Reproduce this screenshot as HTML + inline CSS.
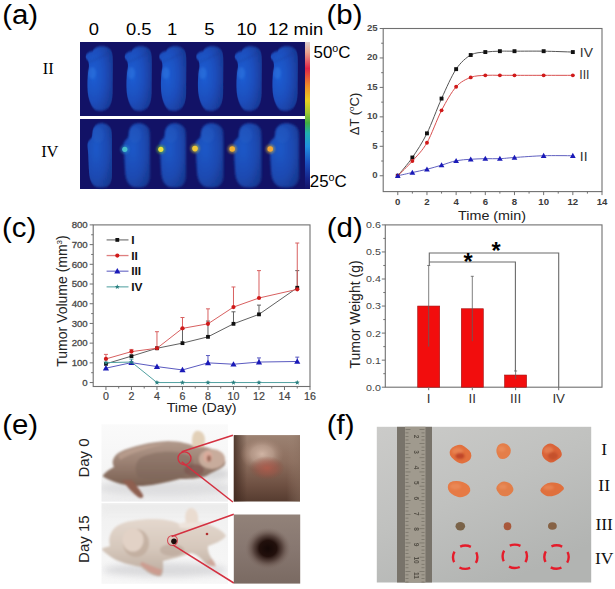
<!DOCTYPE html>
<html><head><meta charset="utf-8"><style>
html,body{margin:0;padding:0;background:#fff;width:615px;height:589px;overflow:hidden}
svg{display:block}
</style></head><body>
<svg width="615" height="589" viewBox="0 0 615 589">
<defs>
<filter id="blur05" x="-20%" y="-20%" width="140%" height="140%"><feGaussianBlur stdDeviation="0.6"/></filter>
<filter id="blur08" x="-20%" y="-20%" width="140%" height="140%"><feGaussianBlur stdDeviation="0.8"/></filter>
<filter id="blur07" x="-20%" y="-20%" width="140%" height="140%"><feGaussianBlur stdDeviation="1"/></filter>
<filter id="blur1" x="-50%" y="-50%" width="200%" height="200%"><feGaussianBlur stdDeviation="1.2"/></filter>
<filter id="blur2" x="-50%" y="-50%" width="200%" height="200%"><feGaussianBlur stdDeviation="3"/></filter>
<filter id="blur25" x="-50%" y="-50%" width="200%" height="200%"><feGaussianBlur stdDeviation="3.2"/></filter>
<filter id="blur3" x="-50%" y="-50%" width="200%" height="200%"><feGaussianBlur stdDeviation="5"/></filter>
<clipPath id="clipE1"><rect x="101.5" y="424.3" width="126.5" height="77.3"/></clipPath>
<clipPath id="clipE2"><rect x="101.5" y="503.2" width="126.5" height="80.6"/></clipPath>
<clipPath id="clipI1"><rect x="233.8" y="435.1" width="66.2" height="66.4"/></clipPath>
<clipPath id="clipI2"><rect x="233.8" y="514.5" width="66.4" height="69.1"/></clipPath>
<linearGradient id="cbar" x1="0" y1="0" x2="0" y2="1">
<stop offset="0" stop-color="#dcd0d0"/>
<stop offset="0.07" stop-color="#e8a490"/>
<stop offset="0.18" stop-color="#e02448"/>
<stop offset="0.3" stop-color="#f08c28"/>
<stop offset="0.4" stop-color="#e8d020"/>
<stop offset="0.48" stop-color="#a0c830"/>
<stop offset="0.55" stop-color="#40b040"/>
<stop offset="0.62" stop-color="#20b0b0"/>
<stop offset="0.71" stop-color="#2090e0"/>
<stop offset="0.82" stop-color="#1a50c0"/>
<stop offset="0.93" stop-color="#16248a"/>
<stop offset="1" stop-color="#141468"/>
</linearGradient>
<radialGradient id="mouseg" cx="0.3" cy="0.45" r="0.8">
<stop offset="0" stop-color="#1e5ed4"/>
<stop offset="0.5" stop-color="#1c4ebc"/>
<stop offset="1" stop-color="#183690"/>
</radialGradient>
<radialGradient id="mouseg2" cx="0.35" cy="0.4" r="0.8">
<stop offset="0" stop-color="#1c58c8"/>
<stop offset="0.55" stop-color="#1b4ab2"/>
<stop offset="1" stop-color="#18368c"/>
</radialGradient>
<linearGradient id="photoBg1" x1="0" y1="0" x2="0" y2="1">
<stop offset="0" stop-color="#fafafa"/>
<stop offset="0.6" stop-color="#f5f5f5"/>
<stop offset="1" stop-color="#ededee"/>
</linearGradient>
<linearGradient id="photoBg2" x1="0" y1="0" x2="0" y2="1">
<stop offset="0" stop-color="#f0f0f0"/>
<stop offset="0.5" stop-color="#f4f4f4"/>
<stop offset="1" stop-color="#f7f7f7"/>
</linearGradient>
<linearGradient id="m1body" x1="0" y1="0" x2="0" y2="1">
<stop offset="0" stop-color="#b29a8c"/>
<stop offset="0.45" stop-color="#9c8274"/>
<stop offset="1" stop-color="#7a6052"/>
</linearGradient>
<linearGradient id="m2body" x1="0" y1="0" x2="0" y2="1">
<stop offset="0" stop-color="#e4d8ce"/>
<stop offset="0.5" stop-color="#d6c8bc"/>
<stop offset="1" stop-color="#bcab9e"/>
</linearGradient>
<linearGradient id="i1base" x1="0" y1="0" x2="0" y2="1">
<stop offset="0" stop-color="#9c8272"/>
<stop offset="0.4" stop-color="#8c6e5e"/>
<stop offset="0.78" stop-color="#6c4e40"/>
<stop offset="1" stop-color="#563c30"/>
</linearGradient>
<linearGradient id="i1side" x1="0" y1="0" x2="1" y2="0">
<stop offset="0" stop-color="#3e281e" stop-opacity="0.8"/>
<stop offset="0.2" stop-color="#3e281e" stop-opacity="0"/>
<stop offset="0.8" stop-color="#a08878" stop-opacity="0"/>
<stop offset="1" stop-color="#8a7060" stop-opacity="0.5"/>
</linearGradient>
<radialGradient id="i1bump">
<stop offset="0" stop-color="#d0b4a4"/>
<stop offset="0.5" stop-color="#bea292" stop-opacity="0.75"/>
<stop offset="1" stop-color="#a08070" stop-opacity="0"/>
</radialGradient>
<radialGradient id="i1red">
<stop offset="0" stop-color="#b05a4a" stop-opacity="0.9"/>
<stop offset="0.55" stop-color="#a05446" stop-opacity="0.55"/>
<stop offset="1" stop-color="#8a4a3a" stop-opacity="0"/>
</radialGradient>
<linearGradient id="i2base" x1="0" y1="0" x2="0" y2="1">
<stop offset="0" stop-color="#928279"/>
<stop offset="0.5" stop-color="#877770"/>
<stop offset="1" stop-color="#7a6a62"/>
</linearGradient>
<radialGradient id="i2spot">
<stop offset="0" stop-color="#140806"/>
<stop offset="0.38" stop-color="#22100c"/>
<stop offset="0.62" stop-color="#4e3a34" stop-opacity="0.85"/>
<stop offset="1" stop-color="#806c64" stop-opacity="0"/>
</radialGradient>
<linearGradient id="photoF" x1="0" y1="0" x2="0.6" y2="1">
<stop offset="0" stop-color="#cbcbc9"/>
<stop offset="0.5" stop-color="#c0c1bf"/>
<stop offset="1" stop-color="#b2b4b2"/>
</linearGradient>
</defs>
<rect width="615" height="589" fill="#fff"/>
<text transform="translate(2.2,24.2) scale(1.07,1)" font-family="'Liberation Sans', sans-serif" font-size="27.5" font-weight="normal" fill="#000" text-anchor="start" >(a)</text>
<text transform="translate(93.8,35) scale(1.07,1)" font-family="'Liberation Sans', sans-serif" font-size="17.2" font-weight="normal" fill="#000" text-anchor="middle" >0</text>
<text transform="translate(138.7,35) scale(1.07,1)" font-family="'Liberation Sans', sans-serif" font-size="17.2" font-weight="normal" fill="#000" text-anchor="middle" >0.5</text>
<text transform="translate(172,35) scale(1.07,1)" font-family="'Liberation Sans', sans-serif" font-size="17.2" font-weight="normal" fill="#000" text-anchor="middle" >1</text>
<text transform="translate(209.3,35) scale(1.07,1)" font-family="'Liberation Sans', sans-serif" font-size="17.2" font-weight="normal" fill="#000" text-anchor="middle" >5</text>
<text transform="translate(246.6,35) scale(1.07,1)" font-family="'Liberation Sans', sans-serif" font-size="17.2" font-weight="normal" fill="#000" text-anchor="middle" >10</text>
<text transform="translate(268,35) scale(1.07,1)" font-family="'Liberation Sans', sans-serif" font-size="17.2" font-weight="normal" fill="#000" text-anchor="start" >12 min</text>
<rect x="80" y="42" width="225" height="74" fill="#121266"/>
<rect x="80" y="119" width="225" height="70" fill="#121266"/>
<g transform="translate(85.5,42) scale(0.95,1)"><path d="M0.2,14 C0.8,11.5 3,10 7.5,9 C9,6 13,4.3 17,4.3 C22,4.3 26,6 27.8,10 C28.8,13 28.8,17 28.8,22 L28.6,50 C28.5,57 27.5,62 24.5,65.5 C22,68 19,68.8 15,68.8 C11,68.8 8,67 6,63 C3.5,58 2,52 2,44 C2,38 2.2,32 3.5,26 C3.8,23 3.6,20.5 2.5,18.5 C1.2,17.5 0,16 0.2,14 Z" fill="url(#mouseg)" filter="url(#blur08)"/><ellipse cx="7" cy="31" rx="4" ry="6" fill="#3a84e8" opacity="0.35" filter="url(#blur1)"/><path d="M4,20 C10,18 18,14 27,10" stroke="#1a3890" stroke-width="1.5" fill="none" opacity="0.25" filter="url(#blur08)"/></g>
<g transform="translate(124.5,42) scale(0.95,1)"><path d="M0.2,14 C0.8,11.5 3,10 7.5,9 C9,6 13,4.3 17,4.3 C22,4.3 26,6 27.8,10 C28.8,13 28.8,17 28.8,22 L28.6,50 C28.5,57 27.5,62 24.5,65.5 C22,68 19,68.8 15,68.8 C11,68.8 8,67 6,63 C3.5,58 2,52 2,44 C2,38 2.2,32 3.5,26 C3.8,23 3.6,20.5 2.5,18.5 C1.2,17.5 0,16 0.2,14 Z" fill="url(#mouseg)" filter="url(#blur08)"/><ellipse cx="7" cy="31" rx="4" ry="6" fill="#3a84e8" opacity="0.35" filter="url(#blur1)"/><path d="M4,20 C10,18 18,14 27,10" stroke="#1a3890" stroke-width="1.5" fill="none" opacity="0.25" filter="url(#blur08)"/></g>
<g transform="translate(159,42) scale(0.95,1)"><path d="M0.2,14 C0.8,11.5 3,10 7.5,9 C9,6 13,4.3 17,4.3 C22,4.3 26,6 27.8,10 C28.8,13 28.8,17 28.8,22 L28.6,50 C28.5,57 27.5,62 24.5,65.5 C22,68 19,68.8 15,68.8 C11,68.8 8,67 6,63 C3.5,58 2,52 2,44 C2,38 2.2,32 3.5,26 C3.8,23 3.6,20.5 2.5,18.5 C1.2,17.5 0,16 0.2,14 Z" fill="url(#mouseg)" filter="url(#blur08)"/><ellipse cx="7" cy="31" rx="4" ry="6" fill="#3a84e8" opacity="0.35" filter="url(#blur1)"/><path d="M4,20 C10,18 18,14 27,10" stroke="#1a3890" stroke-width="1.5" fill="none" opacity="0.25" filter="url(#blur08)"/></g>
<g transform="translate(196,42) scale(0.95,1)"><path d="M0.2,14 C0.8,11.5 3,10 7.5,9 C9,6 13,4.3 17,4.3 C22,4.3 26,6 27.8,10 C28.8,13 28.8,17 28.8,22 L28.6,50 C28.5,57 27.5,62 24.5,65.5 C22,68 19,68.8 15,68.8 C11,68.8 8,67 6,63 C3.5,58 2,52 2,44 C2,38 2.2,32 3.5,26 C3.8,23 3.6,20.5 2.5,18.5 C1.2,17.5 0,16 0.2,14 Z" fill="url(#mouseg)" filter="url(#blur08)"/><ellipse cx="7" cy="31" rx="4" ry="6" fill="#3a84e8" opacity="0.35" filter="url(#blur1)"/><path d="M4,20 C10,18 18,14 27,10" stroke="#1a3890" stroke-width="1.5" fill="none" opacity="0.25" filter="url(#blur08)"/></g>
<g transform="translate(234.5,42) scale(0.95,1)"><path d="M0.2,14 C0.8,11.5 3,10 7.5,9 C9,6 13,4.3 17,4.3 C22,4.3 26,6 27.8,10 C28.8,13 28.8,17 28.8,22 L28.6,50 C28.5,57 27.5,62 24.5,65.5 C22,68 19,68.8 15,68.8 C11,68.8 8,67 6,63 C3.5,58 2,52 2,44 C2,38 2.2,32 3.5,26 C3.8,23 3.6,20.5 2.5,18.5 C1.2,17.5 0,16 0.2,14 Z" fill="url(#mouseg)" filter="url(#blur08)"/><ellipse cx="7" cy="31" rx="4" ry="6" fill="#3a84e8" opacity="0.35" filter="url(#blur1)"/><path d="M4,20 C10,18 18,14 27,10" stroke="#1a3890" stroke-width="1.5" fill="none" opacity="0.25" filter="url(#blur08)"/></g>
<g transform="translate(270.5,42) scale(0.95,1)"><path d="M0.2,14 C0.8,11.5 3,10 7.5,9 C9,6 13,4.3 17,4.3 C22,4.3 26,6 27.8,10 C28.8,13 28.8,17 28.8,22 L28.6,50 C28.5,57 27.5,62 24.5,65.5 C22,68 19,68.8 15,68.8 C11,68.8 8,67 6,63 C3.5,58 2,52 2,44 C2,38 2.2,32 3.5,26 C3.8,23 3.6,20.5 2.5,18.5 C1.2,17.5 0,16 0.2,14 Z" fill="url(#mouseg)" filter="url(#blur08)"/><ellipse cx="7" cy="31" rx="4" ry="6" fill="#3a84e8" opacity="0.35" filter="url(#blur1)"/><path d="M4,20 C10,18 18,14 27,10" stroke="#1a3890" stroke-width="1.5" fill="none" opacity="0.25" filter="url(#blur08)"/></g>
<g transform="translate(87,119) scale(0.9398496240601504,1)"><path d="M6,12 C7,7 10.5,4.2 15,4.2 C20.5,4.2 24.5,6.5 26,11 C26.8,15 26.6,24 26.6,34 L26.6,56 C26.6,62 25,66 21,67.8 C18,68.8 12,68.8 9,67.5 C5,65.5 3,61 2.3,55 C1.8,48 1.5,42 1.3,36 C1.2,31 0.2,28 0.5,25 C0.8,22 3.5,20.5 5,18.5 C5.8,16.5 5.7,14 6,12 Z" fill="url(#mouseg2)" filter="url(#blur08)"/><ellipse cx="12" cy="16" rx="6" ry="8" fill="#2a64c8" opacity="0.3" filter="url(#blur1)"/></g>
<g transform="translate(123,119) scale(1.0150375939849623,1)"><path d="M6,12 C7,7 10.5,4.2 15,4.2 C20.5,4.2 24.5,6.5 26,11 C26.8,15 26.6,24 26.6,34 L26.6,56 C26.6,62 25,66 21,67.8 C18,68.8 12,68.8 9,67.5 C5,65.5 3,61 2.3,55 C1.8,48 1.5,42 1.3,36 C1.2,31 0.2,28 0.5,25 C0.8,22 3.5,20.5 5,18.5 C5.8,16.5 5.7,14 6,12 Z" fill="url(#mouseg2)" filter="url(#blur08)"/><ellipse cx="12" cy="16" rx="6" ry="8" fill="#2a64c8" opacity="0.3" filter="url(#blur1)"/></g>
<g transform="translate(159,119) scale(1.0150375939849623,1)"><path d="M6,12 C7,7 10.5,4.2 15,4.2 C20.5,4.2 24.5,6.5 26,11 C26.8,15 26.6,24 26.6,34 L26.6,56 C26.6,62 25,66 21,67.8 C18,68.8 12,68.8 9,67.5 C5,65.5 3,61 2.3,55 C1.8,48 1.5,42 1.3,36 C1.2,31 0.2,28 0.5,25 C0.8,22 3.5,20.5 5,18.5 C5.8,16.5 5.7,14 6,12 Z" fill="url(#mouseg2)" filter="url(#blur08)"/><ellipse cx="12" cy="16" rx="6" ry="8" fill="#2a64c8" opacity="0.3" filter="url(#blur1)"/></g>
<g transform="translate(194.7,119) scale(1.0827067669172936,1)"><path d="M6,12 C7,7 10.5,4.2 15,4.2 C20.5,4.2 24.5,6.5 26,11 C26.8,15 26.6,24 26.6,34 L26.6,56 C26.6,62 25,66 21,67.8 C18,68.8 12,68.8 9,67.5 C5,65.5 3,61 2.3,55 C1.8,48 1.5,42 1.3,36 C1.2,31 0.2,28 0.5,25 C0.8,22 3.5,20.5 5,18.5 C5.8,16.5 5.7,14 6,12 Z" fill="url(#mouseg2)" filter="url(#blur08)"/><ellipse cx="12" cy="16" rx="6" ry="8" fill="#2a64c8" opacity="0.3" filter="url(#blur1)"/></g>
<g transform="translate(232.8,119) scale(1.0789473684210522,1)"><path d="M6,12 C7,7 10.5,4.2 15,4.2 C20.5,4.2 24.5,6.5 26,11 C26.8,15 26.6,24 26.6,34 L26.6,56 C26.6,62 25,66 21,67.8 C18,68.8 12,68.8 9,67.5 C5,65.5 3,61 2.3,55 C1.8,48 1.5,42 1.3,36 C1.2,31 0.2,28 0.5,25 C0.8,22 3.5,20.5 5,18.5 C5.8,16.5 5.7,14 6,12 Z" fill="url(#mouseg2)" filter="url(#blur08)"/><ellipse cx="12" cy="16" rx="6" ry="8" fill="#2a64c8" opacity="0.3" filter="url(#blur1)"/></g>
<g transform="translate(268.7,119) scale(1.1390977443609027,1)"><path d="M6,12 C7,7 10.5,4.2 15,4.2 C20.5,4.2 24.5,6.5 26,11 C26.8,15 26.6,24 26.6,34 L26.6,56 C26.6,62 25,66 21,67.8 C18,68.8 12,68.8 9,67.5 C5,65.5 3,61 2.3,55 C1.8,48 1.5,42 1.3,36 C1.2,31 0.2,28 0.5,25 C0.8,22 3.5,20.5 5,18.5 C5.8,16.5 5.7,14 6,12 Z" fill="url(#mouseg2)" filter="url(#blur08)"/><ellipse cx="12" cy="16" rx="6" ry="8" fill="#2a64c8" opacity="0.3" filter="url(#blur1)"/></g>
<circle cx="124.8" cy="149.3" r="4.4" fill="#2a90c8" opacity="0.55" filter="url(#blur1)"/>
<circle cx="124.8" cy="149.3" r="2.6" fill="#48c0cc" filter="url(#blur05)"/>
<circle cx="160.8" cy="149.3" r="4.4" fill="#70c040" opacity="0.55" filter="url(#blur1)"/>
<circle cx="160.8" cy="149.3" r="2.6" fill="#e8e040" filter="url(#blur05)"/>
<circle cx="195" cy="148.6" r="4.6" fill="#c0c040" opacity="0.55" filter="url(#blur1)"/>
<circle cx="195" cy="148.6" r="2.8" fill="#f0c838" filter="url(#blur05)"/>
<circle cx="232.2" cy="149" r="4.6" fill="#d0b040" opacity="0.55" filter="url(#blur1)"/>
<circle cx="232.2" cy="149" r="2.8" fill="#f4b030" filter="url(#blur05)"/>
<circle cx="270.2" cy="149" r="4.6" fill="#d0b040" opacity="0.55" filter="url(#blur1)"/>
<circle cx="270.2" cy="149" r="2.8" fill="#f4a838" filter="url(#blur05)"/>
<rect x="305" y="42" width="5" height="147" fill="url(#cbar)"/>
<text transform="translate(313.5,57.5) scale(1.07,1)" font-family="'Liberation Sans', sans-serif" font-size="15.8" font-weight="normal" fill="#000" text-anchor="start" >50<tspan font-size="10" dy="-5.5">o</tspan><tspan dy="5.5">C</tspan></text>
<text transform="translate(309.8,186.5) scale(1.07,1)" font-family="'Liberation Sans', sans-serif" font-size="15.8" font-weight="normal" fill="#000" text-anchor="start" >25<tspan font-size="10" dy="-5.5">o</tspan><tspan dy="5.5">C</tspan></text>
<text transform="translate(48.2,73.8) scale(1.0,1)" font-family="'Liberation Serif', serif" font-size="16.4" font-weight="normal" fill="#000" text-anchor="middle" >II</text>
<text transform="translate(49.8,157) scale(1.0,1)" font-family="'Liberation Serif', serif" font-size="16.4" font-weight="normal" fill="#000" text-anchor="middle" >IV</text>
<text transform="translate(326.5,24.2) scale(1.07,1)" font-family="'Liberation Sans', sans-serif" font-size="27.5" font-weight="normal" fill="#000" text-anchor="start" >(b)</text>
<rect x="383.2" y="28.5" width="218.8" height="163.1" fill="none" stroke="#707070" stroke-width="1.1"/>
<line x1="379.7" y1="175.76" x2="383.2" y2="175.76" stroke="#707070" stroke-width="1"/>
<text transform="translate(377.7,178.2553268327916) scale(1.07,1)" font-family="'Liberation Sans', sans-serif" font-size="9" font-weight="bold" fill="#4a4a4a" text-anchor="end" >0</text>
<line x1="379.7" y1="146.30" x2="383.2" y2="146.30" stroke="#707070" stroke-width="1"/>
<text transform="translate(377.7,148.8042614662333) scale(1.07,1)" font-family="'Liberation Sans', sans-serif" font-size="9" font-weight="bold" fill="#4a4a4a" text-anchor="end" >5</text>
<line x1="379.7" y1="116.85" x2="383.2" y2="116.85" stroke="#707070" stroke-width="1"/>
<text transform="translate(377.7,119.35319609967497) scale(1.07,1)" font-family="'Liberation Sans', sans-serif" font-size="9" font-weight="bold" fill="#4a4a4a" text-anchor="end" >10</text>
<line x1="379.7" y1="87.40" x2="383.2" y2="87.40" stroke="#707070" stroke-width="1"/>
<text transform="translate(377.7,89.90213073311664) scale(1.07,1)" font-family="'Liberation Sans', sans-serif" font-size="9" font-weight="bold" fill="#4a4a4a" text-anchor="end" >15</text>
<line x1="379.7" y1="57.95" x2="383.2" y2="57.95" stroke="#707070" stroke-width="1"/>
<text transform="translate(377.7,60.45106536655834) scale(1.07,1)" font-family="'Liberation Sans', sans-serif" font-size="9" font-weight="bold" fill="#4a4a4a" text-anchor="end" >20</text>
<line x1="379.7" y1="28.50" x2="383.2" y2="28.50" stroke="#707070" stroke-width="1"/>
<text transform="translate(377.7,31.0) scale(1.07,1)" font-family="'Liberation Sans', sans-serif" font-size="9" font-weight="bold" fill="#4a4a4a" text-anchor="end" >25</text>
<line x1="381.2" y1="161.03" x2="383.2" y2="161.03" stroke="#707070" stroke-width="1"/>
<line x1="381.2" y1="131.58" x2="383.2" y2="131.58" stroke="#707070" stroke-width="1"/>
<line x1="381.2" y1="102.13" x2="383.2" y2="102.13" stroke="#707070" stroke-width="1"/>
<line x1="381.2" y1="72.68" x2="383.2" y2="72.68" stroke="#707070" stroke-width="1"/>
<line x1="381.2" y1="43.23" x2="383.2" y2="43.23" stroke="#707070" stroke-width="1"/>
<line x1="397.79" y1="191.6" x2="397.79" y2="195.1" stroke="#707070" stroke-width="1"/>
<text transform="translate(397.78666666666663,204.9) scale(1.07,1)" font-family="'Liberation Sans', sans-serif" font-size="9" font-weight="bold" fill="#3a3a3a" text-anchor="middle" >0</text>
<line x1="426.96" y1="191.6" x2="426.96" y2="195.1" stroke="#707070" stroke-width="1"/>
<text transform="translate(426.96,204.9) scale(1.07,1)" font-family="'Liberation Sans', sans-serif" font-size="9" font-weight="bold" fill="#3a3a3a" text-anchor="middle" >2</text>
<line x1="456.13" y1="191.6" x2="456.13" y2="195.1" stroke="#707070" stroke-width="1"/>
<text transform="translate(456.1333333333333,204.9) scale(1.07,1)" font-family="'Liberation Sans', sans-serif" font-size="9" font-weight="bold" fill="#3a3a3a" text-anchor="middle" >4</text>
<line x1="485.31" y1="191.6" x2="485.31" y2="195.1" stroke="#707070" stroke-width="1"/>
<text transform="translate(485.3066666666667,204.9) scale(1.07,1)" font-family="'Liberation Sans', sans-serif" font-size="9" font-weight="bold" fill="#3a3a3a" text-anchor="middle" >6</text>
<line x1="514.48" y1="191.6" x2="514.48" y2="195.1" stroke="#707070" stroke-width="1"/>
<text transform="translate(514.48,204.9) scale(1.07,1)" font-family="'Liberation Sans', sans-serif" font-size="9" font-weight="bold" fill="#3a3a3a" text-anchor="middle" >8</text>
<line x1="543.65" y1="191.6" x2="543.65" y2="195.1" stroke="#707070" stroke-width="1"/>
<text transform="translate(543.6533333333333,204.9) scale(1.07,1)" font-family="'Liberation Sans', sans-serif" font-size="9" font-weight="bold" fill="#3a3a3a" text-anchor="middle" >10</text>
<line x1="572.83" y1="191.6" x2="572.83" y2="195.1" stroke="#707070" stroke-width="1"/>
<text transform="translate(572.8266666666667,204.9) scale(1.07,1)" font-family="'Liberation Sans', sans-serif" font-size="9" font-weight="bold" fill="#3a3a3a" text-anchor="middle" >12</text>
<line x1="602.00" y1="191.6" x2="602.00" y2="195.1" stroke="#707070" stroke-width="1"/>
<text transform="translate(602.0,204.9) scale(1.07,1)" font-family="'Liberation Sans', sans-serif" font-size="9" font-weight="bold" fill="#3a3a3a" text-anchor="middle" >14</text>
<line x1="412.37" y1="191.6" x2="412.37" y2="193.6" stroke="#707070" stroke-width="1"/>
<line x1="441.55" y1="191.6" x2="441.55" y2="193.6" stroke="#707070" stroke-width="1"/>
<line x1="470.72" y1="191.6" x2="470.72" y2="193.6" stroke="#707070" stroke-width="1"/>
<line x1="499.89" y1="191.6" x2="499.89" y2="193.6" stroke="#707070" stroke-width="1"/>
<line x1="529.07" y1="191.6" x2="529.07" y2="193.6" stroke="#707070" stroke-width="1"/>
<line x1="558.24" y1="191.6" x2="558.24" y2="193.6" stroke="#707070" stroke-width="1"/>
<line x1="587.41" y1="191.6" x2="587.41" y2="193.6" stroke="#707070" stroke-width="1"/>
<text transform="translate(492,220.3) scale(1.07,1)" font-family="'Liberation Sans', sans-serif" font-size="13.4" font-weight="normal" fill="#222" text-anchor="middle" >Time (min)</text>
<text transform="translate(358.8,114) rotate(-90) scale(1,1.0)" font-family="'Liberation Sans', sans-serif" font-size="13" font-weight="normal" fill="#222" text-anchor="middle" >ΔT (<tspan font-size="8" dy="-5">o</tspan><tspan dy="5">C)</tspan></text>
<path d="M397.79,175.76 C400.12,172.83 407.71,164.28 412.37,157.50 C417.04,150.71 422.29,142.77 426.96,133.35 C431.63,123.92 436.88,108.87 441.55,98.59 C446.21,88.32 451.47,76.12 456.13,69.14 C460.80,62.17 466.05,57.74 470.72,55.01 C475.39,52.27 480.64,52.67 485.31,52.06 C489.97,51.45 495.23,51.32 499.89,51.18 C504.56,51.04 507.48,51.18 514.48,51.18 C521.48,51.18 534.32,51.04 543.65,51.18 C552.99,51.32 568.16,51.92 572.83,52.06" fill="none" stroke="#555" stroke-width="1"/>
<rect x="395.84" y="173.81" width="3.9" height="3.9" fill="#111"/>
<rect x="410.42" y="155.55" width="3.9" height="3.9" fill="#111"/>
<rect x="425.01" y="131.40" width="3.9" height="3.9" fill="#111"/>
<rect x="439.60" y="96.64" width="3.9" height="3.9" fill="#111"/>
<rect x="454.18" y="67.19" width="3.9" height="3.9" fill="#111"/>
<rect x="468.77" y="53.06" width="3.9" height="3.9" fill="#111"/>
<rect x="483.36" y="50.11" width="3.9" height="3.9" fill="#111"/>
<rect x="497.94" y="49.23" width="3.9" height="3.9" fill="#111"/>
<rect x="512.53" y="49.23" width="3.9" height="3.9" fill="#111"/>
<rect x="541.70" y="49.23" width="3.9" height="3.9" fill="#111"/>
<rect x="570.88" y="50.11" width="3.9" height="3.9" fill="#111"/>
<path d="M397.79,175.76 C400.12,173.40 407.71,166.31 412.37,161.03 C417.04,155.75 422.29,150.88 426.96,142.77 C431.63,134.67 436.88,119.33 441.55,110.37 C446.21,101.42 451.47,92.09 456.13,86.81 C460.80,81.54 466.05,79.23 470.72,77.39 C475.39,75.55 480.64,75.66 485.31,75.33 C489.97,75.00 495.23,75.33 499.89,75.33 C504.56,75.33 507.48,75.33 514.48,75.33 C521.48,75.33 534.32,75.33 543.65,75.33 C552.99,75.33 568.16,75.33 572.83,75.33" fill="none" stroke="#d85050" stroke-width="1"/>
<circle cx="397.79" cy="175.76" r="1.95" fill="#d01a1a"/>
<circle cx="412.37" cy="161.03" r="1.95" fill="#d01a1a"/>
<circle cx="426.96" cy="142.77" r="1.95" fill="#d01a1a"/>
<circle cx="441.55" cy="110.37" r="1.95" fill="#d01a1a"/>
<circle cx="456.13" cy="86.81" r="1.95" fill="#d01a1a"/>
<circle cx="470.72" cy="77.39" r="1.95" fill="#d01a1a"/>
<circle cx="485.31" cy="75.33" r="1.95" fill="#d01a1a"/>
<circle cx="499.89" cy="75.33" r="1.95" fill="#d01a1a"/>
<circle cx="514.48" cy="75.33" r="1.95" fill="#d01a1a"/>
<circle cx="543.65" cy="75.33" r="1.95" fill="#d01a1a"/>
<circle cx="572.83" cy="75.33" r="1.95" fill="#d01a1a"/>
<path d="M397.79,175.76 C400.12,175.24 407.71,173.55 412.37,172.52 C417.04,171.48 422.29,170.45 426.96,169.28 C431.63,168.10 436.88,166.52 441.55,165.15 C446.21,163.79 451.47,161.68 456.13,160.74 C460.80,159.79 466.05,159.59 470.72,159.26 C475.39,158.93 480.64,158.77 485.31,158.67 C489.97,158.58 495.23,158.86 499.89,158.67 C504.56,158.49 507.48,157.97 514.48,157.50 C521.48,157.02 534.32,156.01 543.65,155.73 C552.99,155.45 568.16,155.73 572.83,155.73" fill="none" stroke="#6060c0" stroke-width="1"/>
<path d="M397.79,172.90 L400.65,177.94 L394.93,177.94 Z" fill="#1a1ab8"/>
<path d="M412.37,169.66 L415.23,174.70 L409.51,174.70 Z" fill="#1a1ab8"/>
<path d="M426.96,166.42 L429.82,171.46 L424.10,171.46 Z" fill="#1a1ab8"/>
<path d="M441.55,162.29 L444.41,167.34 L438.69,167.34 Z" fill="#1a1ab8"/>
<path d="M456.13,157.88 L458.99,162.92 L453.27,162.92 Z" fill="#1a1ab8"/>
<path d="M470.72,156.40 L473.58,161.45 L467.86,161.45 Z" fill="#1a1ab8"/>
<path d="M485.31,155.81 L488.17,160.86 L482.45,160.86 Z" fill="#1a1ab8"/>
<path d="M499.89,155.81 L502.75,160.86 L497.03,160.86 Z" fill="#1a1ab8"/>
<path d="M514.48,154.64 L517.34,159.68 L511.62,159.68 Z" fill="#1a1ab8"/>
<path d="M543.65,152.87 L546.51,157.91 L540.79,157.91 Z" fill="#1a1ab8"/>
<path d="M572.83,152.87 L575.69,157.91 L569.97,157.91 Z" fill="#1a1ab8"/>
<text transform="translate(579.8,57.3) scale(1.07,1)" font-family="'Liberation Sans', sans-serif" font-size="13" font-weight="normal" fill="#333" text-anchor="start" >IV</text>
<text transform="translate(579.2,79) scale(0.95,1)" font-family="'Liberation Sans', sans-serif" font-size="13" font-weight="normal" fill="#333" text-anchor="start" >III</text>
<text transform="translate(579.8,161) scale(1.07,1)" font-family="'Liberation Sans', sans-serif" font-size="13" font-weight="normal" fill="#333" text-anchor="start" >II</text>
<text transform="translate(2,236.5) scale(1.07,1)" font-family="'Liberation Sans', sans-serif" font-size="27.5" font-weight="normal" fill="#000" text-anchor="start" >(c)</text>
<rect x="93.2" y="224.9" width="216.8" height="161.6" fill="none" stroke="#707070" stroke-width="1.1"/>
<line x1="89.7" y1="382.56" x2="93.2" y2="382.56" stroke="#707070" stroke-width="1"/>
<text transform="translate(87.7,385.85853658536587) scale(1.07,1)" font-family="'Liberation Sans', sans-serif" font-size="9" font-weight="normal" fill="#4a4a4a" text-anchor="end" stroke="#4a4a4a" stroke-width="0.3">0</text>
<line x1="89.7" y1="362.85" x2="93.2" y2="362.85" stroke="#707070" stroke-width="1"/>
<text transform="translate(87.7,366.15121951219515) scale(1.07,1)" font-family="'Liberation Sans', sans-serif" font-size="9" font-weight="normal" fill="#4a4a4a" text-anchor="end" stroke="#4a4a4a" stroke-width="0.3">100</text>
<line x1="89.7" y1="343.14" x2="93.2" y2="343.14" stroke="#707070" stroke-width="1"/>
<text transform="translate(87.7,346.4439024390244) scale(1.07,1)" font-family="'Liberation Sans', sans-serif" font-size="9" font-weight="normal" fill="#4a4a4a" text-anchor="end" stroke="#4a4a4a" stroke-width="0.3">200</text>
<line x1="89.7" y1="323.44" x2="93.2" y2="323.44" stroke="#707070" stroke-width="1"/>
<text transform="translate(87.7,326.73658536585367) scale(1.07,1)" font-family="'Liberation Sans', sans-serif" font-size="9" font-weight="normal" fill="#4a4a4a" text-anchor="end" stroke="#4a4a4a" stroke-width="0.3">300</text>
<line x1="89.7" y1="303.73" x2="93.2" y2="303.73" stroke="#707070" stroke-width="1"/>
<text transform="translate(87.7,307.02926829268296) scale(1.07,1)" font-family="'Liberation Sans', sans-serif" font-size="9" font-weight="normal" fill="#4a4a4a" text-anchor="end" stroke="#4a4a4a" stroke-width="0.3">400</text>
<line x1="89.7" y1="284.02" x2="93.2" y2="284.02" stroke="#707070" stroke-width="1"/>
<text transform="translate(87.7,287.3219512195122) scale(1.07,1)" font-family="'Liberation Sans', sans-serif" font-size="9" font-weight="normal" fill="#4a4a4a" text-anchor="end" stroke="#4a4a4a" stroke-width="0.3">500</text>
<line x1="89.7" y1="264.31" x2="93.2" y2="264.31" stroke="#707070" stroke-width="1"/>
<text transform="translate(87.7,267.6146341463415) scale(1.07,1)" font-family="'Liberation Sans', sans-serif" font-size="9" font-weight="normal" fill="#4a4a4a" text-anchor="end" stroke="#4a4a4a" stroke-width="0.3">600</text>
<line x1="89.7" y1="244.61" x2="93.2" y2="244.61" stroke="#707070" stroke-width="1"/>
<text transform="translate(87.7,247.90731707317076) scale(1.07,1)" font-family="'Liberation Sans', sans-serif" font-size="9" font-weight="normal" fill="#4a4a4a" text-anchor="end" stroke="#4a4a4a" stroke-width="0.3">700</text>
<line x1="89.7" y1="224.90" x2="93.2" y2="224.90" stroke="#707070" stroke-width="1"/>
<text transform="translate(87.7,228.20000000000002) scale(1.07,1)" font-family="'Liberation Sans', sans-serif" font-size="9" font-weight="normal" fill="#4a4a4a" text-anchor="end" stroke="#4a4a4a" stroke-width="0.3">800</text>
<line x1="91.2" y1="372.70" x2="93.2" y2="372.70" stroke="#707070" stroke-width="1"/>
<line x1="91.2" y1="353.00" x2="93.2" y2="353.00" stroke="#707070" stroke-width="1"/>
<line x1="91.2" y1="333.29" x2="93.2" y2="333.29" stroke="#707070" stroke-width="1"/>
<line x1="91.2" y1="313.58" x2="93.2" y2="313.58" stroke="#707070" stroke-width="1"/>
<line x1="91.2" y1="293.88" x2="93.2" y2="293.88" stroke="#707070" stroke-width="1"/>
<line x1="91.2" y1="274.17" x2="93.2" y2="274.17" stroke="#707070" stroke-width="1"/>
<line x1="91.2" y1="254.46" x2="93.2" y2="254.46" stroke="#707070" stroke-width="1"/>
<line x1="91.2" y1="234.75" x2="93.2" y2="234.75" stroke="#707070" stroke-width="1"/>
<line x1="105.95" y1="386.5" x2="105.95" y2="390.0" stroke="#707070" stroke-width="1"/>
<text transform="translate(105.95294117647059,399.5) scale(1.07,1)" font-family="'Liberation Sans', sans-serif" font-size="10" font-weight="normal" fill="#444" text-anchor="middle" stroke="#444" stroke-width="0.2">0</text>
<line x1="131.46" y1="386.5" x2="131.46" y2="390.0" stroke="#707070" stroke-width="1"/>
<text transform="translate(131.45882352941177,399.5) scale(1.07,1)" font-family="'Liberation Sans', sans-serif" font-size="10" font-weight="normal" fill="#444" text-anchor="middle" stroke="#444" stroke-width="0.2">2</text>
<line x1="156.96" y1="386.5" x2="156.96" y2="390.0" stroke="#707070" stroke-width="1"/>
<text transform="translate(156.96470588235294,399.5) scale(1.07,1)" font-family="'Liberation Sans', sans-serif" font-size="10" font-weight="normal" fill="#444" text-anchor="middle" stroke="#444" stroke-width="0.2">4</text>
<line x1="182.47" y1="386.5" x2="182.47" y2="390.0" stroke="#707070" stroke-width="1"/>
<text transform="translate(182.47058823529412,399.5) scale(1.07,1)" font-family="'Liberation Sans', sans-serif" font-size="10" font-weight="normal" fill="#444" text-anchor="middle" stroke="#444" stroke-width="0.2">6</text>
<line x1="207.98" y1="386.5" x2="207.98" y2="390.0" stroke="#707070" stroke-width="1"/>
<text transform="translate(207.97647058823532,399.5) scale(1.07,1)" font-family="'Liberation Sans', sans-serif" font-size="10" font-weight="normal" fill="#444" text-anchor="middle" stroke="#444" stroke-width="0.2">8</text>
<line x1="233.48" y1="386.5" x2="233.48" y2="390.0" stroke="#707070" stroke-width="1"/>
<text transform="translate(233.4823529411765,399.5) scale(1.07,1)" font-family="'Liberation Sans', sans-serif" font-size="10" font-weight="normal" fill="#444" text-anchor="middle" stroke="#444" stroke-width="0.2">10</text>
<line x1="258.99" y1="386.5" x2="258.99" y2="390.0" stroke="#707070" stroke-width="1"/>
<text transform="translate(258.98823529411766,399.5) scale(1.07,1)" font-family="'Liberation Sans', sans-serif" font-size="10" font-weight="normal" fill="#444" text-anchor="middle" stroke="#444" stroke-width="0.2">12</text>
<line x1="284.49" y1="386.5" x2="284.49" y2="390.0" stroke="#707070" stroke-width="1"/>
<text transform="translate(284.49411764705883,399.5) scale(1.07,1)" font-family="'Liberation Sans', sans-serif" font-size="10" font-weight="normal" fill="#444" text-anchor="middle" stroke="#444" stroke-width="0.2">14</text>
<line x1="310.00" y1="386.5" x2="310.00" y2="390.0" stroke="#707070" stroke-width="1"/>
<text transform="translate(310.0,399.5) scale(1.07,1)" font-family="'Liberation Sans', sans-serif" font-size="10" font-weight="normal" fill="#444" text-anchor="middle" stroke="#444" stroke-width="0.2">16</text>
<line x1="118.71" y1="386.5" x2="118.71" y2="388.5" stroke="#707070" stroke-width="1"/>
<line x1="144.21" y1="386.5" x2="144.21" y2="388.5" stroke="#707070" stroke-width="1"/>
<line x1="169.72" y1="386.5" x2="169.72" y2="388.5" stroke="#707070" stroke-width="1"/>
<line x1="195.22" y1="386.5" x2="195.22" y2="388.5" stroke="#707070" stroke-width="1"/>
<line x1="220.73" y1="386.5" x2="220.73" y2="388.5" stroke="#707070" stroke-width="1"/>
<line x1="246.24" y1="386.5" x2="246.24" y2="388.5" stroke="#707070" stroke-width="1"/>
<line x1="271.74" y1="386.5" x2="271.74" y2="388.5" stroke="#707070" stroke-width="1"/>
<line x1="297.25" y1="386.5" x2="297.25" y2="388.5" stroke="#707070" stroke-width="1"/>
<text transform="translate(201.6,411.7) scale(1.07,1)" font-family="'Liberation Sans', sans-serif" font-size="13.3" font-weight="normal" fill="#222" text-anchor="middle" >Time (Day)</text>
<text transform="translate(66.5,301) rotate(-90) scale(1,1.0)" font-family="'Liberation Sans', sans-serif" font-size="14" font-weight="normal" fill="#222" text-anchor="middle" >Tumor Volume (mm<tspan font-size="8" dy="-5">3</tspan><tspan dy="5">)</tspan></text>
<line x1="182.47" y1="328.95" x2="182.47" y2="343.14" stroke="#606060" stroke-width="1"/>
<line x1="180.47" y1="328.95" x2="184.47" y2="328.95" stroke="#606060" stroke-width="1"/>
<line x1="207.98" y1="321.07" x2="207.98" y2="336.84" stroke="#606060" stroke-width="1"/>
<line x1="205.98" y1="321.07" x2="209.98" y2="321.07" stroke="#606060" stroke-width="1"/>
<line x1="233.48" y1="311.81" x2="233.48" y2="323.83" stroke="#606060" stroke-width="1"/>
<line x1="231.48" y1="311.81" x2="235.48" y2="311.81" stroke="#606060" stroke-width="1"/>
<line x1="258.99" y1="305.11" x2="258.99" y2="314.37" stroke="#606060" stroke-width="1"/>
<line x1="256.99" y1="305.11" x2="260.99" y2="305.11" stroke="#606060" stroke-width="1"/>
<line x1="297.25" y1="270.62" x2="297.25" y2="287.77" stroke="#606060" stroke-width="1"/>
<line x1="295.25" y1="270.62" x2="299.25" y2="270.62" stroke="#606060" stroke-width="1"/>
<line x1="105.95" y1="354.38" x2="105.95" y2="358.91" stroke="#d86060" stroke-width="1"/>
<line x1="103.95" y1="354.38" x2="107.95" y2="354.38" stroke="#d86060" stroke-width="1"/>
<line x1="131.46" y1="349.45" x2="131.46" y2="351.62" stroke="#d86060" stroke-width="1"/>
<line x1="129.46" y1="349.45" x2="133.46" y2="349.45" stroke="#d86060" stroke-width="1"/>
<line x1="156.96" y1="331.71" x2="156.96" y2="348.27" stroke="#d86060" stroke-width="1"/>
<line x1="154.96" y1="331.71" x2="158.96" y2="331.71" stroke="#d86060" stroke-width="1"/>
<line x1="182.47" y1="317.52" x2="182.47" y2="328.36" stroke="#d86060" stroke-width="1"/>
<line x1="180.47" y1="317.52" x2="184.47" y2="317.52" stroke="#d86060" stroke-width="1"/>
<line x1="207.98" y1="308.85" x2="207.98" y2="323.83" stroke="#d86060" stroke-width="1"/>
<line x1="205.98" y1="308.85" x2="209.98" y2="308.85" stroke="#d86060" stroke-width="1"/>
<line x1="233.48" y1="286.98" x2="233.48" y2="307.08" stroke="#d86060" stroke-width="1"/>
<line x1="231.48" y1="286.98" x2="235.48" y2="286.98" stroke="#d86060" stroke-width="1"/>
<line x1="258.99" y1="270.62" x2="258.99" y2="298.01" stroke="#d86060" stroke-width="1"/>
<line x1="256.99" y1="270.62" x2="260.99" y2="270.62" stroke="#d86060" stroke-width="1"/>
<line x1="297.25" y1="243.03" x2="297.25" y2="289.34" stroke="#d86060" stroke-width="1"/>
<line x1="295.25" y1="243.03" x2="299.25" y2="243.03" stroke="#d86060" stroke-width="1"/>
<line x1="207.98" y1="355.56" x2="207.98" y2="362.85" stroke="#5a5ac0" stroke-width="1"/>
<line x1="205.98" y1="355.56" x2="209.98" y2="355.56" stroke="#5a5ac0" stroke-width="1"/>
<line x1="258.99" y1="357.92" x2="258.99" y2="362.06" stroke="#5a5ac0" stroke-width="1"/>
<line x1="256.99" y1="357.92" x2="260.99" y2="357.92" stroke="#5a5ac0" stroke-width="1"/>
<line x1="297.25" y1="357.14" x2="297.25" y2="361.47" stroke="#5a5ac0" stroke-width="1"/>
<line x1="295.25" y1="357.14" x2="299.25" y2="357.14" stroke="#5a5ac0" stroke-width="1"/>
<line x1="131.46" y1="359.11" x2="131.46" y2="362.06" stroke="#50a0a0" stroke-width="1"/>
<line x1="129.46" y1="359.11" x2="133.46" y2="359.11" stroke="#50a0a0" stroke-width="1"/>
<polyline points="105.95,363.84 131.46,356.15 156.96,348.27 182.47,343.14 207.98,336.84 233.48,323.83 258.99,314.37 297.25,287.77" fill="none" stroke="#606060" stroke-width="1"/>
<rect x="104.05" y="361.94" width="3.8" height="3.8" fill="#111"/>
<rect x="129.56" y="354.25" width="3.8" height="3.8" fill="#111"/>
<rect x="155.06" y="346.37" width="3.8" height="3.8" fill="#111"/>
<rect x="180.57" y="341.24" width="3.8" height="3.8" fill="#111"/>
<rect x="206.08" y="334.94" width="3.8" height="3.8" fill="#111"/>
<rect x="231.58" y="321.93" width="3.8" height="3.8" fill="#111"/>
<rect x="257.09" y="312.47" width="3.8" height="3.8" fill="#111"/>
<rect x="295.35" y="285.87" width="3.8" height="3.8" fill="#111"/>
<polyline points="105.95,358.91 131.46,351.62 156.96,348.27 182.47,328.36 207.98,323.83 233.48,307.08 258.99,298.01 297.25,289.34" fill="none" stroke="#d86060" stroke-width="1"/>
<circle cx="105.95" cy="358.91" r="2.1" fill="#d01a1a"/>
<circle cx="131.46" cy="351.62" r="2.1" fill="#d01a1a"/>
<circle cx="156.96" cy="348.27" r="2.1" fill="#d01a1a"/>
<circle cx="182.47" cy="328.36" r="2.1" fill="#d01a1a"/>
<circle cx="207.98" cy="323.83" r="2.1" fill="#d01a1a"/>
<circle cx="233.48" cy="307.08" r="2.1" fill="#d01a1a"/>
<circle cx="258.99" cy="298.01" r="2.1" fill="#d01a1a"/>
<circle cx="297.25" cy="289.34" r="2.1" fill="#d01a1a"/>
<polyline points="105.95,368.17 131.46,362.65 156.96,366.60 182.47,369.95 207.98,362.85 233.48,364.23 258.99,362.06 297.25,361.47" fill="none" stroke="#5a5ac0" stroke-width="1"/>
<path d="M105.95,365.09 L109.03,370.52 L102.87,370.52 Z" fill="#1a1ab8"/>
<path d="M131.46,359.57 L134.54,365.01 L128.38,365.01 Z" fill="#1a1ab8"/>
<path d="M156.96,363.52 L160.04,368.95 L153.88,368.95 Z" fill="#1a1ab8"/>
<path d="M182.47,366.87 L185.55,372.30 L179.39,372.30 Z" fill="#1a1ab8"/>
<path d="M207.98,359.77 L211.06,365.20 L204.90,365.20 Z" fill="#1a1ab8"/>
<path d="M233.48,361.15 L236.56,366.58 L230.40,366.58 Z" fill="#1a1ab8"/>
<path d="M258.99,358.98 L262.07,364.41 L255.91,364.41 Z" fill="#1a1ab8"/>
<path d="M297.25,358.39 L300.33,363.82 L294.17,363.82 Z" fill="#1a1ab8"/>
<polyline points="105.95,362.65 131.46,362.06 156.96,382.56 182.47,382.56 207.98,382.56 233.48,382.56 258.99,382.56 297.25,382.56" fill="none" stroke="#50a0a0" stroke-width="1"/>
<polygon points="105.95,360.05 106.63,361.72 108.43,361.85 107.05,363.01 107.48,364.76 105.95,363.81 104.42,364.76 104.85,363.01 103.48,361.85 105.27,361.72" fill="#2a8080"/>
<polygon points="131.46,359.46 132.14,361.13 133.93,361.26 132.56,362.42 132.99,364.17 131.46,363.22 129.93,364.17 130.36,362.42 128.99,361.26 130.78,361.13" fill="#2a8080"/>
<polygon points="156.96,379.96 157.64,381.62 159.44,381.76 158.06,382.92 158.49,384.66 156.96,383.71 155.44,384.66 155.87,382.92 154.49,381.76 156.29,381.62" fill="#2a8080"/>
<polygon points="182.47,379.96 183.15,381.62 184.94,381.76 183.57,382.92 184.00,384.66 182.47,383.71 180.94,384.66 181.37,382.92 180.00,381.76 181.79,381.62" fill="#2a8080"/>
<polygon points="207.98,379.96 208.66,381.62 210.45,381.76 209.08,382.92 209.50,384.66 207.98,383.71 206.45,384.66 206.88,382.92 205.50,381.76 207.30,381.62" fill="#2a8080"/>
<polygon points="233.48,379.96 234.16,381.62 235.96,381.76 234.58,382.92 235.01,384.66 233.48,383.71 231.95,384.66 232.38,382.92 231.01,381.76 232.80,381.62" fill="#2a8080"/>
<polygon points="258.99,379.96 259.67,381.62 261.46,381.76 260.09,382.92 260.52,384.66 258.99,383.71 257.46,384.66 257.89,382.92 256.52,381.76 258.31,381.62" fill="#2a8080"/>
<polygon points="297.25,379.96 297.93,381.62 299.72,381.76 298.35,382.92 298.78,384.66 297.25,383.71 295.72,384.66 296.15,382.92 294.77,381.76 296.57,381.62" fill="#2a8080"/>
<line x1="106.6" y1="239.90" x2="128.5" y2="239.90" stroke="#606060" stroke-width="1.3" opacity="0.8"/>
<rect x="115.40" y="238.00" width="3.8" height="3.8" fill="#111"/>
<text transform="translate(131.2,243.9) scale(1.07,1)" font-family="'Liberation Sans', sans-serif" font-size="11.2" font-weight="bold" fill="#111" text-anchor="start" >I</text>
<line x1="106.6" y1="255.55" x2="128.5" y2="255.55" stroke="#d86060" stroke-width="1.3" opacity="0.8"/>
<circle cx="117.30" cy="255.55" r="2.1" fill="#d01a1a"/>
<text transform="translate(131.2,259.55) scale(1.07,1)" font-family="'Liberation Sans', sans-serif" font-size="11.2" font-weight="bold" fill="#111" text-anchor="start" >II</text>
<line x1="106.6" y1="271.20" x2="128.5" y2="271.20" stroke="#5a5ac0" stroke-width="1.3" opacity="0.8"/>
<path d="M117.30,268.12 L120.38,273.55 L114.22,273.55 Z" fill="#1a1ab8"/>
<text transform="translate(131.2,275.2) scale(1.07,1)" font-family="'Liberation Sans', sans-serif" font-size="11.2" font-weight="bold" fill="#111" text-anchor="start" >III</text>
<line x1="106.6" y1="286.85" x2="128.5" y2="286.85" stroke="#50a0a0" stroke-width="1.3" opacity="0.8"/>
<polygon points="117.30,284.25 117.98,285.92 119.77,286.05 118.40,287.21 118.83,288.95 117.30,288.01 115.77,288.95 116.20,287.21 114.83,286.05 116.62,285.92" fill="#2a8080"/>
<text transform="translate(131.2,290.85) scale(1.07,1)" font-family="'Liberation Sans', sans-serif" font-size="11.2" font-weight="bold" fill="#111" text-anchor="start" >IV</text>
<text transform="translate(326.8,236.7) scale(1.07,1)" font-family="'Liberation Sans', sans-serif" font-size="27.5" font-weight="normal" fill="#000" text-anchor="start" >(d)</text>
<rect x="385.3" y="224.9" width="216.7" height="162.29999999999998" fill="none" stroke="#707070" stroke-width="1.1"/>
<line x1="381.8" y1="387.20" x2="385.3" y2="387.20" stroke="#707070" stroke-width="1"/>
<text transform="translate(380.8,390.59999999999997) scale(1.12,1)" font-family="'Liberation Sans', sans-serif" font-size="9.5" font-weight="normal" fill="#444" text-anchor="end" >0.0</text>
<line x1="381.8" y1="360.15" x2="385.3" y2="360.15" stroke="#707070" stroke-width="1"/>
<text transform="translate(380.8,363.54999999999995) scale(1.12,1)" font-family="'Liberation Sans', sans-serif" font-size="9.5" font-weight="normal" fill="#444" text-anchor="end" >0.1</text>
<line x1="381.8" y1="333.10" x2="385.3" y2="333.10" stroke="#707070" stroke-width="1"/>
<text transform="translate(380.8,336.49999999999994) scale(1.12,1)" font-family="'Liberation Sans', sans-serif" font-size="9.5" font-weight="normal" fill="#444" text-anchor="end" >0.2</text>
<line x1="381.8" y1="306.05" x2="385.3" y2="306.05" stroke="#707070" stroke-width="1"/>
<text transform="translate(380.8,309.45) scale(1.12,1)" font-family="'Liberation Sans', sans-serif" font-size="9.5" font-weight="normal" fill="#444" text-anchor="end" >0.3</text>
<line x1="381.8" y1="279.00" x2="385.3" y2="279.00" stroke="#707070" stroke-width="1"/>
<text transform="translate(380.8,282.4) scale(1.12,1)" font-family="'Liberation Sans', sans-serif" font-size="9.5" font-weight="normal" fill="#444" text-anchor="end" >0.4</text>
<line x1="381.8" y1="251.95" x2="385.3" y2="251.95" stroke="#707070" stroke-width="1"/>
<text transform="translate(380.8,255.35) scale(1.12,1)" font-family="'Liberation Sans', sans-serif" font-size="9.5" font-weight="normal" fill="#444" text-anchor="end" >0.5</text>
<line x1="381.8" y1="224.90" x2="385.3" y2="224.90" stroke="#707070" stroke-width="1"/>
<text transform="translate(380.8,228.3) scale(1.12,1)" font-family="'Liberation Sans', sans-serif" font-size="9.5" font-weight="normal" fill="#444" text-anchor="end" >0.6</text>
<line x1="383.3" y1="373.68" x2="385.3" y2="373.68" stroke="#707070" stroke-width="1"/>
<line x1="383.3" y1="346.62" x2="385.3" y2="346.62" stroke="#707070" stroke-width="1"/>
<line x1="383.3" y1="319.57" x2="385.3" y2="319.57" stroke="#707070" stroke-width="1"/>
<line x1="383.3" y1="292.52" x2="385.3" y2="292.52" stroke="#707070" stroke-width="1"/>
<line x1="383.3" y1="265.48" x2="385.3" y2="265.48" stroke="#707070" stroke-width="1"/>
<line x1="383.3" y1="238.42" x2="385.3" y2="238.42" stroke="#707070" stroke-width="1"/>
<rect x="417.7" y="306.05" width="22" height="81.15" fill="#f20d0d" stroke="#a01010" stroke-width="0.6"/>
<line x1="428.7" y1="346.62" x2="428.7" y2="265.48" stroke="#606060" stroke-width="0.8"/>
<line x1="427.2" y1="265.48" x2="430.2" y2="265.48" stroke="#606060" stroke-width="0.8"/>
<line x1="428.7" y1="387.2" x2="428.7" y2="390.2" stroke="#707070" stroke-width="1"/>
<text transform="translate(428.7,403.2) scale(1.07,1)" font-family="'Liberation Sans', sans-serif" font-size="12.5" font-weight="normal" fill="#333" text-anchor="middle" >I</text>
<rect x="461.3" y="308.75" width="22" height="78.44" fill="#f20d0d" stroke="#a01010" stroke-width="0.6"/>
<line x1="472.3" y1="341.21" x2="472.3" y2="276.30" stroke="#606060" stroke-width="0.8"/>
<line x1="470.8" y1="276.30" x2="473.8" y2="276.30" stroke="#606060" stroke-width="0.8"/>
<line x1="472.3" y1="387.2" x2="472.3" y2="390.2" stroke="#707070" stroke-width="1"/>
<text transform="translate(472.3,403.2) scale(1.07,1)" font-family="'Liberation Sans', sans-serif" font-size="12.5" font-weight="normal" fill="#333" text-anchor="middle" >II</text>
<rect x="504.6" y="375.03" width="22" height="12.17" fill="#f20d0d" stroke="#a01010" stroke-width="0.6"/>
<line x1="515.6" y1="379.08" x2="515.6" y2="370.97" stroke="#606060" stroke-width="0.8"/>
<line x1="514.1" y1="370.97" x2="517.1" y2="370.97" stroke="#606060" stroke-width="0.8"/>
<line x1="515.6" y1="387.2" x2="515.6" y2="390.2" stroke="#707070" stroke-width="1"/>
<text transform="translate(515.6,403.2) scale(1.07,1)" font-family="'Liberation Sans', sans-serif" font-size="12.5" font-weight="normal" fill="#333" text-anchor="middle" >III</text>
<line x1="558.7" y1="387.2" x2="558.7" y2="390.2" stroke="#707070" stroke-width="1"/>
<text transform="translate(558.7,403.2) scale(1.07,1)" font-family="'Liberation Sans', sans-serif" font-size="12.5" font-weight="normal" fill="#333" text-anchor="middle" >IV</text>
<polyline points="429.3,265.48 429.3,253 558.7,253 558.7,387.2" fill="none" stroke="#6a6a6a" stroke-width="1.1"/>
<polyline points="429.3,262 515.4,262 515.4,370.97" fill="none" stroke="#6a6a6a" stroke-width="1.1"/>
<text transform="translate(496,258.5) scale(1.0,1)" font-family="'Liberation Sans', sans-serif" font-size="23.5" font-weight="bold" fill="#000" text-anchor="middle" >*</text>
<text transform="translate(468,270) scale(1.0,1)" font-family="'Liberation Sans', sans-serif" font-size="23.5" font-weight="bold" fill="#000" text-anchor="middle" >*</text>
<text transform="translate(359.8,314.5) rotate(-90) scale(1,1.0)" font-family="'Liberation Sans', sans-serif" font-size="14" font-weight="normal" fill="#222" text-anchor="middle" >Tumor Weight (g)</text>
<text transform="translate(2.2,434.3) scale(1.07,1)" font-family="'Liberation Sans', sans-serif" font-size="27.5" font-weight="normal" fill="#000" text-anchor="start" >(e)</text>
<text transform="translate(88.5,458) rotate(-90) scale(1,1.02)" font-family="'Liberation Sans', sans-serif" font-size="15" font-weight="normal" fill="#222" text-anchor="middle" >Day 0</text>
<text transform="translate(88.5,539.2) rotate(-90) scale(1,1.02)" font-family="'Liberation Sans', sans-serif" font-size="15" font-weight="normal" fill="#222" text-anchor="middle" >Day 15</text>
<rect x="101.5" y="424.3" width="126.5" height="77.3" fill="url(#photoBg1)"/>
<rect x="101.5" y="503.2" width="126.5" height="80.6" fill="url(#photoBg2)"/>
<g clip-path="url(#clipE1)">
<ellipse cx="165" cy="488" rx="68" ry="8" fill="#d2d2d4" opacity="0.6" filter="url(#blur2)"/>
<ellipse cx="214" cy="474" rx="16" ry="6" fill="#cacacc" opacity="0.7" filter="url(#blur2)"/>
<g filter="url(#blur07)">
<path d="M102.5,476 C105,472 110,469 114,467 C111,462 113,456 120,452 C132,446 150,442 168,441 C180,441 190,444 197,447 C206,446 215,449 220,454 C225,458 227,462 224,466 C219,470 212,472 206,476 C198,479 188,479 180,479 C168,482 155,485 143,486 C130,486 118,484 112,481 C108,479 104,478 102.5,476 Z" fill="url(#m1body)"/>
<path d="M140,458 C155,450 178,450 190,456 C196,462 194,472 182,477 C165,481 148,481 138,477 C134,470 135,463 140,458 Z" fill="#7a6458" opacity="0.45"/>
<path d="M118,455 C130,448 150,444 165,444 C150,448 132,452 120,460 Z" fill="#c4a898" opacity="0.55"/>
<path d="M122,480 C127,487 133,493 138,497 C141,499 144,498 143,495 C140,490 136,485 132,480 Z" fill="#8e5e50"/>
<path d="M193,447 C191,440 192,433 196,431 C201,430 205,434 205,440 L204,447 Z" fill="#e2d0b8"/>
<ellipse cx="212" cy="459" rx="13" ry="10" fill="#c8ac9c"/>
<ellipse cx="208" cy="457" rx="4.5" ry="5.5" fill="#dcac9c"/>
<ellipse cx="209" cy="458.5" rx="2.2" ry="3.2" fill="#a07060"/>
<ellipse cx="194" cy="470" rx="10" ry="6" fill="#7a4c48" opacity="0.55"/>
</g></g>
<ellipse cx="184.5" cy="458.3" rx="6.5" ry="6.5" fill="none" stroke="#d43040" stroke-width="1.3"/>
<line x1="232.9" y1="435.2" x2="181.7" y2="451.8" stroke="#d43040" stroke-width="1.5"/>
<line x1="181.7" y1="461.9" x2="232.9" y2="502" stroke="#d43040" stroke-width="1.5"/>
<g clip-path="url(#clipE2)">
<rect x="101.5" y="503.2" width="132.3" height="10" fill="#e6e6e6" opacity="0.4" filter="url(#blur2)"/>
<ellipse cx="165" cy="570" rx="62" ry="7" fill="#cfcfd2" opacity="0.7" filter="url(#blur2)"/>
<g filter="url(#blur07)">
<path d="M101.5,549 C104,547.5 107,547 110,546 C108,539 110,531 117,526 C125,521 139,519 152,519 C165,519 174,521 180,524 C188,521 200,521 210,525 C218,528 224,532 226,536 C222,541 214,544 208,546 C207,552 211,558 215,563 C214,567 209,567 205,563 C200,557 196,554 191,553 C182,556 172,559 163,561 C163,567 164,572 161,576 C154,577 147,572 141,567 C130,565 118,562 111,557 C107,554 103,551 101.5,549 Z" fill="url(#m2body)"/>
<ellipse cx="136" cy="543" rx="13" ry="14" fill="#bea898" opacity="0.7"/>
<ellipse cx="133" cy="540" rx="10.5" ry="11.5" fill="#e2d2c6"/>
<path d="M178,524 C186,521 196,521 206,525 C200,528 190,529 180,528 Z" fill="#f0e6de" opacity="0.8"/>
<path d="M186,523 C184,515 186,509 190.5,508 C195.5,508 199,513 198,522 Z" fill="#eadcd0"/>
<path d="M140,564 C146,570 152,574 160,575.5 L162,570 C155,567 148,565 142,562 Z" fill="#cc9c90"/>
<path d="M206,562 C209,565 213,567 216,566 L212,559 Z" fill="#d0a89c"/>
<ellipse cx="172" cy="550" rx="12" ry="6" fill="#b09a8c" opacity="0.45"/>
</g></g>
<circle cx="207" cy="534" r="1.3" fill="#b03030"/>
<circle cx="174" cy="541.3" r="2.8" fill="#1a0a08" filter="url(#blur05)"/>
<ellipse cx="172.5" cy="540.5" rx="5" ry="5" fill="none" stroke="#d43040" stroke-width="1.1" opacity="0.8"/>
<line x1="233.8" y1="514.2" x2="171.6" y2="536.5" stroke="#d43040" stroke-width="1.5"/>
<line x1="172.8" y1="544.8" x2="233.8" y2="583" stroke="#d43040" stroke-width="1.5"/>
<rect x="233.8" y="435.1" width="66.2" height="66.4" fill="url(#i1base)"/>
<rect x="233.8" y="435.1" width="66.2" height="66.4" fill="url(#i1side)"/>
<ellipse cx="262" cy="454" rx="22" ry="17" fill="url(#i1bump)"/>
<ellipse cx="267" cy="468" rx="18" ry="12" fill="url(#i1red)"/>
<rect x="233.8" y="514.5" width="66.4" height="69.1" fill="url(#i2base)"/>
<ellipse cx="268" cy="548.5" rx="23" ry="21" fill="url(#i2spot)"/>
<text transform="translate(326.8,434.2) scale(1.07,1)" font-family="'Liberation Sans', sans-serif" font-size="27.5" font-weight="normal" fill="#000" text-anchor="start" >(f)</text>
<rect x="376.8" y="426.8" width="214.4" height="155.7" fill="url(#photoF)"/>
<rect x="397" y="426.8" width="35" height="155.7" fill="#78736a"/>
<rect x="405" y="426.8" width="20.5" height="155.7" fill="#a09a8e"/>
<text transform="translate(413.5,436.60) rotate(90)" font-family="'Liberation Sans', sans-serif" font-size="6.5" font-weight="bold" fill="#3a362e" text-anchor="middle" opacity="0.75">2</text>
<text transform="translate(413.5,452.03) rotate(90)" font-family="'Liberation Sans', sans-serif" font-size="6.5" font-weight="bold" fill="#3a362e" text-anchor="middle" opacity="0.75">3</text>
<text transform="translate(413.5,467.46) rotate(90)" font-family="'Liberation Sans', sans-serif" font-size="6.5" font-weight="bold" fill="#3a362e" text-anchor="middle" opacity="0.75">4</text>
<text transform="translate(413.5,482.89) rotate(90)" font-family="'Liberation Sans', sans-serif" font-size="6.5" font-weight="bold" fill="#3a362e" text-anchor="middle" opacity="0.75">5</text>
<text transform="translate(413.5,498.32) rotate(90)" font-family="'Liberation Sans', sans-serif" font-size="6.5" font-weight="bold" fill="#3a362e" text-anchor="middle" opacity="0.75">6</text>
<text transform="translate(413.5,513.75) rotate(90)" font-family="'Liberation Sans', sans-serif" font-size="6.5" font-weight="bold" fill="#3a362e" text-anchor="middle" opacity="0.75">7</text>
<text transform="translate(413.5,529.18) rotate(90)" font-family="'Liberation Sans', sans-serif" font-size="6.5" font-weight="bold" fill="#3a362e" text-anchor="middle" opacity="0.75">8</text>
<text transform="translate(413.5,544.61) rotate(90)" font-family="'Liberation Sans', sans-serif" font-size="6.5" font-weight="bold" fill="#3a362e" text-anchor="middle" opacity="0.75">9</text>
<text transform="translate(413.5,560.04) rotate(90)" font-family="'Liberation Sans', sans-serif" font-size="6.5" font-weight="bold" fill="#3a362e" text-anchor="middle" opacity="0.75">10</text>
<text transform="translate(413.5,575.47) rotate(90)" font-family="'Liberation Sans', sans-serif" font-size="6.5" font-weight="bold" fill="#3a362e" text-anchor="middle" opacity="0.75">11</text>
<rect x="405.5" y="429.00" width="5" height="0.7" fill="#555046" opacity="0.6"/>
<rect x="419.5" y="429.00" width="5" height="0.7" fill="#555046" opacity="0.6"/>
<rect x="405.5" y="432.55" width="3" height="0.7" fill="#555046" opacity="0.6"/>
<rect x="421.5" y="432.55" width="3" height="0.7" fill="#555046" opacity="0.6"/>
<rect x="405.5" y="436.10" width="3" height="0.7" fill="#555046" opacity="0.6"/>
<rect x="421.5" y="436.10" width="3" height="0.7" fill="#555046" opacity="0.6"/>
<rect x="405.5" y="439.65" width="3" height="0.7" fill="#555046" opacity="0.6"/>
<rect x="421.5" y="439.65" width="3" height="0.7" fill="#555046" opacity="0.6"/>
<rect x="405.5" y="443.20" width="5" height="0.7" fill="#555046" opacity="0.6"/>
<rect x="419.5" y="443.20" width="5" height="0.7" fill="#555046" opacity="0.6"/>
<rect x="405.5" y="446.75" width="3" height="0.7" fill="#555046" opacity="0.6"/>
<rect x="421.5" y="446.75" width="3" height="0.7" fill="#555046" opacity="0.6"/>
<rect x="405.5" y="450.30" width="3" height="0.7" fill="#555046" opacity="0.6"/>
<rect x="421.5" y="450.30" width="3" height="0.7" fill="#555046" opacity="0.6"/>
<rect x="405.5" y="453.85" width="3" height="0.7" fill="#555046" opacity="0.6"/>
<rect x="421.5" y="453.85" width="3" height="0.7" fill="#555046" opacity="0.6"/>
<rect x="405.5" y="457.40" width="5" height="0.7" fill="#555046" opacity="0.6"/>
<rect x="419.5" y="457.40" width="5" height="0.7" fill="#555046" opacity="0.6"/>
<rect x="405.5" y="460.95" width="3" height="0.7" fill="#555046" opacity="0.6"/>
<rect x="421.5" y="460.95" width="3" height="0.7" fill="#555046" opacity="0.6"/>
<rect x="405.5" y="464.50" width="3" height="0.7" fill="#555046" opacity="0.6"/>
<rect x="421.5" y="464.50" width="3" height="0.7" fill="#555046" opacity="0.6"/>
<rect x="405.5" y="468.05" width="3" height="0.7" fill="#555046" opacity="0.6"/>
<rect x="421.5" y="468.05" width="3" height="0.7" fill="#555046" opacity="0.6"/>
<rect x="405.5" y="471.60" width="5" height="0.7" fill="#555046" opacity="0.6"/>
<rect x="419.5" y="471.60" width="5" height="0.7" fill="#555046" opacity="0.6"/>
<rect x="405.5" y="475.15" width="3" height="0.7" fill="#555046" opacity="0.6"/>
<rect x="421.5" y="475.15" width="3" height="0.7" fill="#555046" opacity="0.6"/>
<rect x="405.5" y="478.70" width="3" height="0.7" fill="#555046" opacity="0.6"/>
<rect x="421.5" y="478.70" width="3" height="0.7" fill="#555046" opacity="0.6"/>
<rect x="405.5" y="482.25" width="3" height="0.7" fill="#555046" opacity="0.6"/>
<rect x="421.5" y="482.25" width="3" height="0.7" fill="#555046" opacity="0.6"/>
<rect x="405.5" y="485.80" width="5" height="0.7" fill="#555046" opacity="0.6"/>
<rect x="419.5" y="485.80" width="5" height="0.7" fill="#555046" opacity="0.6"/>
<rect x="405.5" y="489.35" width="3" height="0.7" fill="#555046" opacity="0.6"/>
<rect x="421.5" y="489.35" width="3" height="0.7" fill="#555046" opacity="0.6"/>
<rect x="405.5" y="492.90" width="3" height="0.7" fill="#555046" opacity="0.6"/>
<rect x="421.5" y="492.90" width="3" height="0.7" fill="#555046" opacity="0.6"/>
<rect x="405.5" y="496.45" width="3" height="0.7" fill="#555046" opacity="0.6"/>
<rect x="421.5" y="496.45" width="3" height="0.7" fill="#555046" opacity="0.6"/>
<rect x="405.5" y="500.00" width="5" height="0.7" fill="#555046" opacity="0.6"/>
<rect x="419.5" y="500.00" width="5" height="0.7" fill="#555046" opacity="0.6"/>
<rect x="405.5" y="503.55" width="3" height="0.7" fill="#555046" opacity="0.6"/>
<rect x="421.5" y="503.55" width="3" height="0.7" fill="#555046" opacity="0.6"/>
<rect x="405.5" y="507.10" width="3" height="0.7" fill="#555046" opacity="0.6"/>
<rect x="421.5" y="507.10" width="3" height="0.7" fill="#555046" opacity="0.6"/>
<rect x="405.5" y="510.65" width="3" height="0.7" fill="#555046" opacity="0.6"/>
<rect x="421.5" y="510.65" width="3" height="0.7" fill="#555046" opacity="0.6"/>
<rect x="405.5" y="514.20" width="5" height="0.7" fill="#555046" opacity="0.6"/>
<rect x="419.5" y="514.20" width="5" height="0.7" fill="#555046" opacity="0.6"/>
<rect x="405.5" y="517.75" width="3" height="0.7" fill="#555046" opacity="0.6"/>
<rect x="421.5" y="517.75" width="3" height="0.7" fill="#555046" opacity="0.6"/>
<rect x="405.5" y="521.30" width="3" height="0.7" fill="#555046" opacity="0.6"/>
<rect x="421.5" y="521.30" width="3" height="0.7" fill="#555046" opacity="0.6"/>
<rect x="405.5" y="524.85" width="3" height="0.7" fill="#555046" opacity="0.6"/>
<rect x="421.5" y="524.85" width="3" height="0.7" fill="#555046" opacity="0.6"/>
<rect x="405.5" y="528.40" width="5" height="0.7" fill="#555046" opacity="0.6"/>
<rect x="419.5" y="528.40" width="5" height="0.7" fill="#555046" opacity="0.6"/>
<rect x="405.5" y="531.95" width="3" height="0.7" fill="#555046" opacity="0.6"/>
<rect x="421.5" y="531.95" width="3" height="0.7" fill="#555046" opacity="0.6"/>
<rect x="405.5" y="535.50" width="3" height="0.7" fill="#555046" opacity="0.6"/>
<rect x="421.5" y="535.50" width="3" height="0.7" fill="#555046" opacity="0.6"/>
<rect x="405.5" y="539.05" width="3" height="0.7" fill="#555046" opacity="0.6"/>
<rect x="421.5" y="539.05" width="3" height="0.7" fill="#555046" opacity="0.6"/>
<rect x="405.5" y="542.60" width="5" height="0.7" fill="#555046" opacity="0.6"/>
<rect x="419.5" y="542.60" width="5" height="0.7" fill="#555046" opacity="0.6"/>
<rect x="405.5" y="546.15" width="3" height="0.7" fill="#555046" opacity="0.6"/>
<rect x="421.5" y="546.15" width="3" height="0.7" fill="#555046" opacity="0.6"/>
<rect x="405.5" y="549.70" width="3" height="0.7" fill="#555046" opacity="0.6"/>
<rect x="421.5" y="549.70" width="3" height="0.7" fill="#555046" opacity="0.6"/>
<rect x="405.5" y="553.25" width="3" height="0.7" fill="#555046" opacity="0.6"/>
<rect x="421.5" y="553.25" width="3" height="0.7" fill="#555046" opacity="0.6"/>
<rect x="405.5" y="556.80" width="5" height="0.7" fill="#555046" opacity="0.6"/>
<rect x="419.5" y="556.80" width="5" height="0.7" fill="#555046" opacity="0.6"/>
<rect x="405.5" y="560.35" width="3" height="0.7" fill="#555046" opacity="0.6"/>
<rect x="421.5" y="560.35" width="3" height="0.7" fill="#555046" opacity="0.6"/>
<rect x="405.5" y="563.90" width="3" height="0.7" fill="#555046" opacity="0.6"/>
<rect x="421.5" y="563.90" width="3" height="0.7" fill="#555046" opacity="0.6"/>
<rect x="405.5" y="567.45" width="3" height="0.7" fill="#555046" opacity="0.6"/>
<rect x="421.5" y="567.45" width="3" height="0.7" fill="#555046" opacity="0.6"/>
<rect x="405.5" y="571.00" width="5" height="0.7" fill="#555046" opacity="0.6"/>
<rect x="419.5" y="571.00" width="5" height="0.7" fill="#555046" opacity="0.6"/>
<rect x="405.5" y="574.55" width="3" height="0.7" fill="#555046" opacity="0.6"/>
<rect x="421.5" y="574.55" width="3" height="0.7" fill="#555046" opacity="0.6"/>
<rect x="405.5" y="578.10" width="3" height="0.7" fill="#555046" opacity="0.6"/>
<rect x="421.5" y="578.10" width="3" height="0.7" fill="#555046" opacity="0.6"/>
<rect x="405.5" y="581.65" width="3" height="0.7" fill="#555046" opacity="0.6"/>
<rect x="421.5" y="581.65" width="3" height="0.7" fill="#555046" opacity="0.6"/>
<path d="M468.83,460.66 Q466.57,462.43 463.36,463.27 Q460.15,464.12 457.14,462.03 Q454.13,459.93 451.70,457.43 Q449.27,454.93 449.63,451.99 Q449.99,449.05 452.38,447.41 Q454.78,445.78 457.90,445.00 Q461.03,444.21 464.02,446.17 Q467.01,448.13 469.33,450.61 Q471.65,453.09 471.38,455.99 Q471.10,458.90 468.83,460.66 Z" fill="#e2703e" filter="url(#blur05)"/>
<ellipse cx="457.57500000000005" cy="451.15" rx="5.445" ry="3.3249999999999997" fill="#f09a6a" opacity="0.45" filter="url(#blur1)"/>
<path d="M509.80,454.62 Q508.76,456.56 506.77,457.83 Q504.77,459.10 502.14,459.00 Q499.50,458.91 498.21,456.71 Q496.92,454.51 496.49,452.29 Q496.06,450.07 496.88,447.79 Q497.70,445.50 499.99,444.11 Q502.28,442.72 504.88,443.52 Q507.47,444.31 509.11,446.19 Q510.76,448.06 510.80,450.37 Q510.84,452.68 509.80,454.62 Z" fill="#e47e4a" filter="url(#blur05)"/>
<ellipse cx="501.55" cy="449.03" rx="3.69" ry="2.765" fill="#f09a6a" opacity="0.45" filter="url(#blur1)"/>
<path d="M559.75,457.92 Q557.09,459.78 554.50,461.59 Q551.90,463.40 548.84,461.94 Q545.78,460.48 543.94,458.19 Q542.10,455.90 541.90,453.21 Q541.70,450.51 543.09,448.12 Q544.48,445.74 547.29,444.22 Q550.11,442.70 553.10,444.21 Q556.08,445.72 558.50,447.74 Q560.92,449.76 561.66,452.91 Q562.41,456.06 559.75,457.92 Z" fill="#da6438" filter="url(#blur05)"/>
<ellipse cx="548.35" cy="450.15" rx="4.77" ry="3.3249999999999997" fill="#f09a6a" opacity="0.45" filter="url(#blur1)"/>
<path d="M469.00,493.31 Q467.08,495.43 463.96,496.57 Q460.84,497.71 457.38,496.63 Q453.92,495.54 451.48,493.70 Q449.03,491.87 448.18,489.45 Q447.33,487.03 448.30,484.55 Q449.26,482.08 452.75,481.31 Q456.23,480.53 459.81,481.28 Q463.39,482.02 466.35,483.87 Q469.31,485.73 470.11,488.46 Q470.92,491.19 469.00,493.31 Z" fill="#e67a44" filter="url(#blur05)"/>
<ellipse cx="455.45" cy="486.45" rx="5.49" ry="2.9749999999999996" fill="#f09a6a" opacity="0.45" filter="url(#blur1)"/>
<path d="M512.71,491.70 Q511.55,493.62 509.44,495.09 Q507.33,496.56 504.40,496.23 Q501.47,495.89 499.66,494.13 Q497.85,492.36 496.86,490.28 Q495.87,488.20 496.97,486.16 Q498.07,484.12 500.35,482.71 Q502.63,481.30 505.59,481.68 Q508.55,482.06 510.39,483.83 Q512.23,485.60 513.05,487.69 Q513.87,489.78 512.71,491.70 Z" fill="#e27e48" filter="url(#blur05)"/>
<ellipse cx="502.75" cy="486.84" rx="4.05" ry="2.52" fill="#f09a6a" opacity="0.45" filter="url(#blur1)"/>
<path d="M562.81,490.36 Q560.68,492.39 558.20,493.99 Q555.71,495.59 551.93,496.19 Q548.15,496.79 545.52,495.39 Q542.89,493.98 541.18,492.27 Q539.48,490.55 541.00,488.61 Q542.51,486.67 544.77,484.85 Q547.03,483.04 550.94,482.62 Q554.85,482.20 557.96,483.36 Q561.06,484.52 563.00,486.42 Q564.94,488.32 562.81,490.36 Z" fill="#e0703e" filter="url(#blur05)"/>
<ellipse cx="548.475" cy="487.43" rx="5.445" ry="2.415" fill="#f09a6a" opacity="0.45" filter="url(#blur1)"/>
<ellipse cx="460.3" cy="526.3" rx="4.8" ry="4.2" fill="#7a6448" filter="url(#blur05)"/>
<ellipse cx="507.5" cy="526.3" rx="3.8" ry="4" fill="#a8583a" filter="url(#blur05)"/>
<ellipse cx="552.4" cy="526" rx="4.4" ry="3.8" fill="#866244" filter="url(#blur05)"/>
<ellipse cx="460" cy="456" rx="4.5" ry="3" fill="#a82a1c" opacity="0.6" filter="url(#blur1)"/>
<ellipse cx="553" cy="456" rx="5" ry="4" fill="#b04024" opacity="0.5" filter="url(#blur1)"/>
<ellipse cx="465.2" cy="557.2" rx="12.2" ry="11.7" fill="none" stroke="#e41c2c" stroke-width="2.4" stroke-dasharray="11 7.6" stroke-dashoffset="5" filter="url(#blur05)"/>
<ellipse cx="514.8" cy="556.3" rx="12.2" ry="11.7" fill="none" stroke="#e41c2c" stroke-width="2.4" stroke-dasharray="11 7.6" stroke-dashoffset="5" filter="url(#blur05)"/>
<ellipse cx="556.5" cy="557" rx="12.2" ry="11.7" fill="none" stroke="#e41c2c" stroke-width="2.4" stroke-dasharray="11 7.6" stroke-dashoffset="5" filter="url(#blur05)"/>
<text transform="translate(604.2,455) scale(1.0,1)" font-family="'Liberation Serif', serif" font-size="17.5" font-weight="normal" fill="#111" text-anchor="middle" >I</text>
<text transform="translate(604.2,491) scale(1.0,1)" font-family="'Liberation Serif', serif" font-size="17.5" font-weight="normal" fill="#111" text-anchor="middle" >II</text>
<text transform="translate(604.2,530.2) scale(1.0,1)" font-family="'Liberation Serif', serif" font-size="17.5" font-weight="normal" fill="#111" text-anchor="middle" >III</text>
<text transform="translate(604.2,563.6) scale(1.0,1)" font-family="'Liberation Serif', serif" font-size="17.5" font-weight="normal" fill="#111" text-anchor="middle" >IV</text>
</svg></body></html>
